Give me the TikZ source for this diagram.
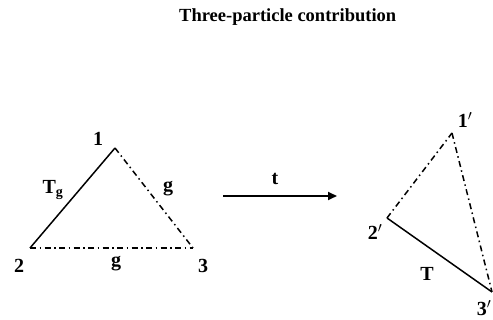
\documentclass[tikz,border=0pt]{standalone}
\usepackage{fontspec}
\setmainfont{Liberation Serif}
\usetikzlibrary{arrows.meta}
\begin{document}
\begin{tikzpicture}[x=1pt,y=-1pt,
  solidedge/.style={line width=1.5pt},
  dashdotedge/.style={line width=1.5pt,dash pattern=on 6pt off 3.5pt on 1.5pt off 3.5pt},
  lbl/.style={font=\fontsize{20}{20}\selectfont\bfseries,inner sep=0pt},
  ttl/.style={font=\fontsize{18.5}{18.5}\selectfont\bfseries,inner sep=0pt}]
\useasboundingbox (0,0) rectangle (493,320);
\node[ttl,anchor=base west] (title) at (179,22) {Three-particle contribution};
% left triangle
\coordinate (v1) at (115,148);
\coordinate (v2) at (30,248);
\coordinate (v3) at (193,248);
\draw[solidedge] (v2) -- (v1);
\draw[dashdotedge] (v1) -- (v3);
\draw[dashdotedge] (v2) -- (v3);
\node[lbl] (l1) at (98,139) {1};
\node[lbl] (l2) at (19,266) {2};
\node[lbl] (l3) at (203,266) {3};
\node[lbl] (lg1) at (168,189) {g};
\node[lbl] (lg2) at (116,264) {g};
\node[lbl] (lTg) at (53,190) {T\textsubscript{g}};
% arrow
\coordinate (a1) at (223,196);
\coordinate (a2) at (337,196);
\draw[line width=2pt,-{Triangle[length=9pt,width=8pt]}] (a1) -- (a2);
\node[lbl] (lt) at (275,179) {t};
% right triangle
\coordinate (w1) at (452,133);
\coordinate (w2) at (387,218);
\coordinate (w3) at (492,292);
\draw[dashdotedge] (w2) -- (w1);
\draw[dashdotedge] (w1) -- (w3);
\draw[solidedge] (w2) -- (w3);
\node[lbl] (m1) at (465,120) {1$'$};
\node[lbl] (m2) at (375,232) {2$'$};
\node[lbl] (m3) at (484,308) {3$'$};
\node[lbl] (mT) at (427,274) {T};
\end{tikzpicture}
\end{document}
